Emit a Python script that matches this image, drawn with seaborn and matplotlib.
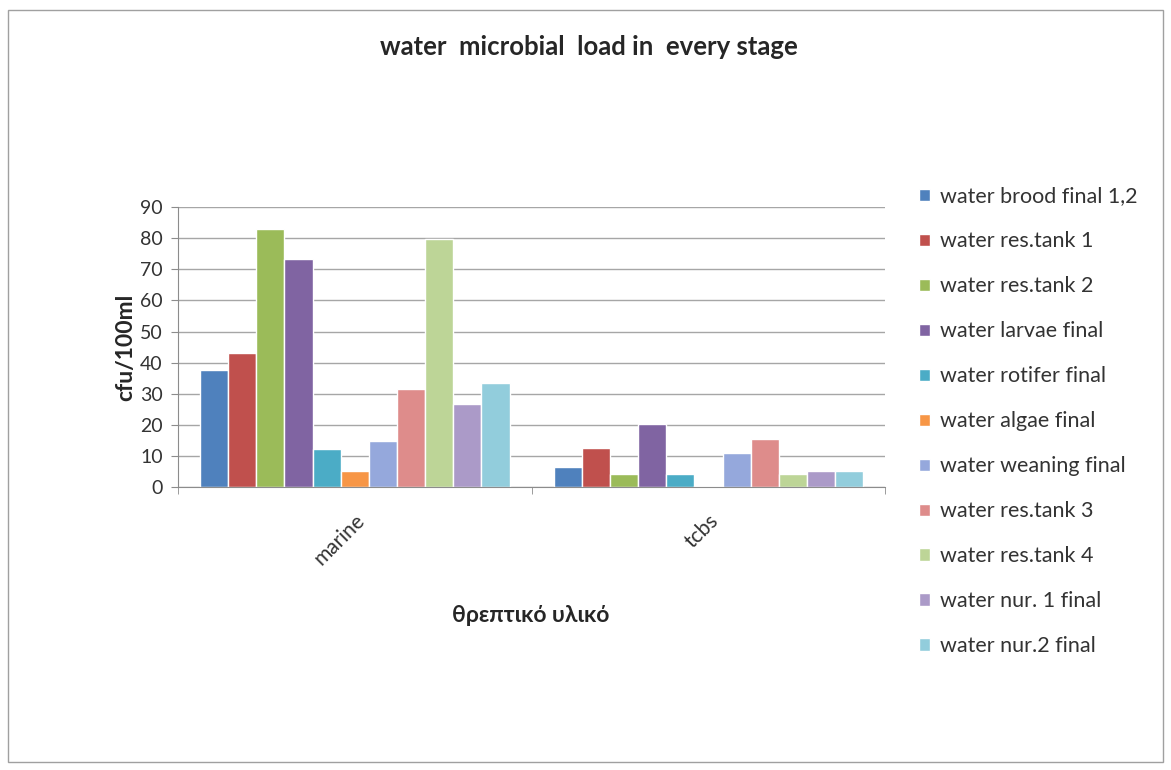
import pandas as pd
import matplotlib.pyplot as plt
import matplotlib.patches as mpatches
import seaborn as sns

# categories (x axis) and series
media = ['marine', 'tcbs']
series = ['water brood final 1,2', 'water res.tank 1', 'water res.tank 2',
          'water larvae final', 'water rotifer final', 'water algae final',
          'water weaning final', 'water res.tank 3', 'water res.tank 4',
          'water nur. 1 final', 'water nur.2 final']
marine_vals = [37.6, 43.1, 83.0, 73.4, 12.1, 5.2, 14.8, 31.5, 79.8, 26.6, 33.3]
tcbs_vals = [6.4, 12.4, 4.3, 20.4, 4.1, 0.4, 11.1, 15.4, 4.3, 5.2, 5.2]

colors = ['#4F81BD', '#C0504D', '#9BBB59', '#8064A2', '#4BACC6', '#F79646',
          '#95A8DC', '#DE8C8B', '#BDD597', '#AB9AC8', '#92CDDC']

# long table for seaborn
rows = []
for s, m, t in zip(series, marine_vals, tcbs_vals):
    rows.append({'medium': 'marine', 'series': s, 'value': m})
    rows.append({'medium': 'tcbs', 'series': s, 'value': t})
df = pd.DataFrame(rows)

sns.set_style('white')
plt.rcParams['font.family'] = ['Lato', 'Open Sans', 'DejaVu Sans']

fig = plt.figure(figsize=(11.71, 7.7), dpi=100)
ax = fig.add_axes([0.152, 0.3675, 0.604, 0.3635])

sns.barplot(data=df, x='medium', y='value', hue='series', order=media,
            hue_order=series, palette=colors, saturation=1, width=0.875,
            errorbar=None, ax=ax)

ax.set_ylim(0, 90)
ax.set_xlim(-0.5, 1.5)
ax.set_yticks(range(0, 91, 10))
ax.yaxis.grid(True, color='#A6A6A6', linewidth=1)
ax.set_axisbelow(True)
for side in ['top', 'right']:
    ax.spines[side].set_visible(False)
for side in ['left', 'bottom']:
    ax.spines[side].set_color('#8C8C8C')

ax.tick_params(axis='y', labelsize=14, length=5, color='#8C8C8C', left=True,
               pad=6, labelcolor='#333333')
ax.set_xticks([0, 1])
ax.set_xticklabels(media, rotation=45, ha='right', va='top',
                   rotation_mode='anchor', fontsize=15, color='#333333')
ax.tick_params(axis='x', length=0, pad=17)
# category boundary ticks
ax.set_xticks([-0.5, 0.5, 1.5], minor=True)
ax.tick_params(axis='x', which='minor', length=5, color='#8C8C8C', bottom=True)

ax.set_xlabel('')
ax.set_ylabel('cfu/100ml', fontsize=16.5, fontweight='bold', labelpad=3)
fig.text(0.453, 0.2, 'θρεπτικό υλικό', ha='center', va='center',
         fontsize=16.5, fontweight='bold')
fig.text(0.503, 0.939, 'water  microbial  load in  every stage', ha='center',
         va='center', fontsize=18.5, fontweight='bold')

leg = ax.legend(loc='upper left', bbox_to_anchor=(1.02, 1.143), frameon=False,
                fontsize=15.5, handlelength=0.5, handleheight=0.5,
                handletextpad=0.5, labelspacing=1.16)
for t in leg.get_texts():
    t.set_color('#333333')

# outer chart border
fig.patches.append(mpatches.Rectangle((0.007, 0.01), 0.986, 0.977,
                                      transform=fig.transFigure, fill=False,
                                      edgecolor='#A0A0A0', linewidth=1))

plt.savefig('out.png', dpi=100)
